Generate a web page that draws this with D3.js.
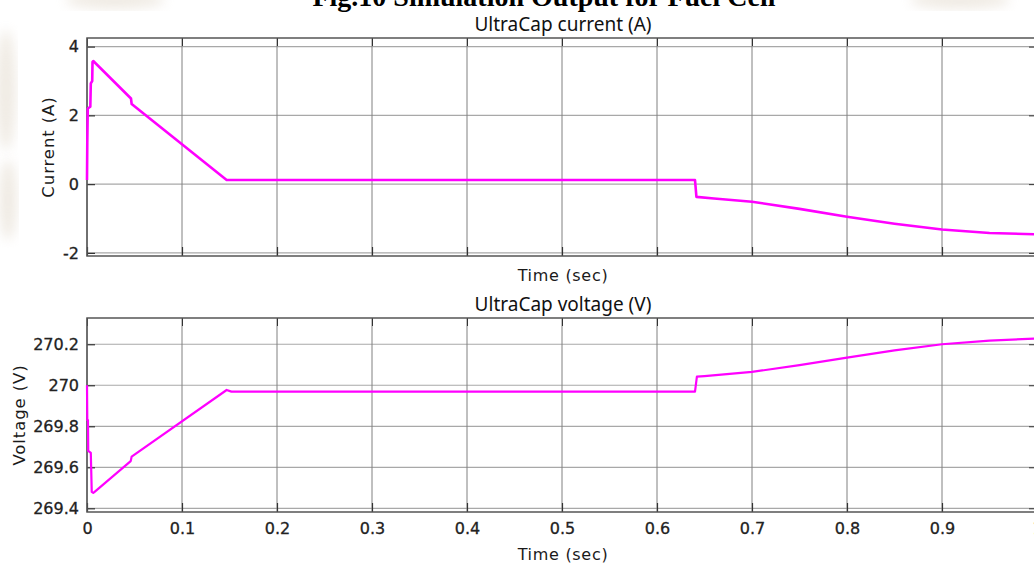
<!DOCTYPE html>
<html>
<head>
<meta charset="utf-8">
<script src="https://cdn.jsdelivr.net/npm/d3@7"></script>
<style>
  body { margin: 0; background: #fff; overflow: hidden; }
  text { font-family: "DejaVu Sans", sans-serif; }
</style>
</head>
<body>
<script>
const width = 1034;
const height = 563;

// UltraCap current (A)
const currentTime = [0, 0.0003, 0.0008, 0.0035, 0.004, 0.0055, 0.0058, 0.0066, 0.0463, 0.047, 0.147, 0.15, 0.64, 0.6415, 0.66, 0.7, 0.75, 0.8, 0.85, 0.9, 0.95, 1.0];
const currentValue = [0.12, 1.2, 2.2, 2.25, 2.93, 3.0, 3.55, 3.58, 2.49, 2.33, 0.12, 0.12, 0.12, -0.37, -0.42, -0.51, -0.72, -0.95, -1.15, -1.32, -1.42, -1.46];

// UltraCap voltage (V)
const voltageTime = [0, 0.0003, 0.001, 0.0013, 0.004, 0.005, 0.0066, 0.008, 0.046, 0.047, 0.147, 0.152, 0.64, 0.642, 0.65, 0.7, 0.75, 0.8, 0.85, 0.9, 0.95, 1.0];
const voltageValue = [270.0, 269.83, 269.83, 269.68, 269.67, 269.48, 269.475, 269.48, 269.63, 269.652, 269.977, 269.969, 269.969, 270.042, 270.045, 270.065, 270.098, 270.135, 270.17, 270.2, 270.218, 270.228];

const timeTicks = [0, 0.1, 0.2, 0.3, 0.4, 0.5, 0.6, 0.7, 0.8, 0.9, 1];
const currentTicks = [-2, 0, 2, 4];
const voltageTicks = [269.4, 269.6, 269.8, 270, 270.2];

const svg = d3.select("body").append("svg").attr("width", width).attr("height", height);

// faint background blobs from the scanned page
const blur = svg.append("defs").append("filter").attr("id", "blur");
blur.append("feGaussianBlur").attr("stdDeviation", 6);
const blobs = [[115, 0, 50, 9], [960, 0, 50, 9], [6, 90, 10, 60], [8, 200, 9, 40]];
svg.selectAll("ellipse.blob").data(blobs).join("ellipse")
  .attr("cx", d => d[0]).attr("cy", d => d[1]).attr("rx", d => d[2]).attr("ry", d => d[3])
  .attr("fill", "#d9cdbb").attr("opacity", 0.4).attr("filter", "url(#blur)");

// page caption, cut off at the top
svg.append("text")
  .attr("x", 544).attr("y", 6)
  .attr("text-anchor", "middle")
  .style("font-family", "'Liberation Serif', serif")
  .style("font-weight", "bold")
  .style("font-size", "28px")
  .text("Fig.10 Simulation Output for Fuel Cell");

const x = d3.scaleLinear().domain([0, 1]).range([87, 1037]);
const plain = d => d3.format("")(+d.toFixed(1)).replace("−", "-");

function drawPanel(opts) {
  const y = d3.scaleLinear().domain(opts.domain).range([opts.bottom, opts.top]);
  const g = svg.append("g");
  const x0 = x.range()[0], x1 = x.range()[1];

  // grid
  g.selectAll("line.hgrid").data(opts.ticks).join("line")
    .attr("x1", x0).attr("x2", x1)
    .attr("y1", d => y(d)).attr("y2", d => y(d))
    .attr("stroke", "#a8a8a8").attr("stroke-width", 1.2);
  g.selectAll("line.vgrid").data(timeTicks).join("line")
    .attr("x1", d => x(d)).attr("x2", d => x(d))
    .attr("y1", opts.top).attr("y2", opts.bottom)
    .attr("stroke", "#808080").attr("stroke-width", 1);

  // left axis, ticks pointing inward
  const left = g.append("g").attr("transform", `translate(${x0},0)`)
    .call(d3.axisLeft(y).tickValues(opts.ticks).tickSizeInner(-8).tickSizeOuter(0).tickPadding(8)
      .tickFormat(plain));
  left.select(".domain").remove();
  left.selectAll("line").attr("stroke", "#333").attr("stroke-width", 1.2);
  left.selectAll("text").attr("fill", "#222").attr("stroke", "#222").attr("stroke-width", 0.3)
    .style("font-size", "16px");

  const right = g.append("g").attr("transform", `translate(${x1},0)`)
    .call(d3.axisRight(y).tickValues(opts.ticks).tickSizeInner(-8).tickSizeOuter(0).tickFormat(""));
  right.select(".domain").remove();
  right.selectAll("line").attr("stroke", "#333");

  const bottomAxis = g.append("g").attr("transform", `translate(0,${opts.bottom})`)
    .call(d3.axisBottom(x).tickValues(timeTicks).tickSizeInner(-9).tickSizeOuter(0).tickPadding(11)
      .tickFormat(opts.showTime ? plain : ""));
  bottomAxis.select(".domain").remove();
  bottomAxis.selectAll("line").attr("stroke", "#333").attr("stroke-width", 1.2);
  bottomAxis.selectAll("text").attr("fill", "#222").attr("stroke", "#222").attr("stroke-width", 0.3)
    .style("font-size", "16px");

  const topAxis = g.append("g").attr("transform", `translate(0,${opts.top})`)
    .call(d3.axisTop(x).tickValues(timeTicks).tickSizeInner(-8).tickSizeOuter(0).tickFormat(""));
  topAxis.select(".domain").remove();
  topAxis.selectAll("line").attr("stroke", "#333");

  // frame
  g.append("rect")
    .attr("x", x0).attr("y", opts.top)
    .attr("width", x1 - x0).attr("height", opts.bottom - opts.top)
    .attr("fill", "none").attr("stroke", "#555").attr("stroke-width", 1.5);

  // signal
  const line = d3.line()
    .x((d, i) => x(opts.t[i]))
    .y(d => y(d));
  g.append("path")
    .datum(opts.v)
    .attr("d", line)
    .attr("fill", "none")
    .attr("stroke", "#ff00ff")
    .attr("stroke-width", opts.lineWidth)
    .attr("stroke-linejoin", "round");

  // titles
  g.append("text")
    .attr("x", 563).attr("y", opts.top - 7)
    .attr("text-anchor", "middle")
    .style("font-family", "'Noto Sans', sans-serif")
    .style("font-size", "19px")
    .attr("fill", "#111")
    .text(opts.title);
  g.append("text")
    .attr("x", 563).attr("y", opts.xLabelY)
    .attr("text-anchor", "middle")
    .style("font-size", "16px")
    .style("letter-spacing", "0.7px")
    .attr("fill", "#1a1a1a")
    .text("Time (sec)");
  g.append("text")
    .attr("transform", `translate(${opts.yLabelX},${(opts.top + opts.bottom) / 2}) rotate(-90)`)
    .attr("text-anchor", "middle")
    .attr("dy", "0.35em")
    .style("font-size", "16.5px")
    .style("letter-spacing", "0.9px")
    .attr("fill", "#1a1a1a")
    .text(opts.yLabel);
}

drawPanel({
  top: 38, bottom: 256, domain: [-2.09, 4.25], ticks: currentTicks,
  t: currentTime, v: currentValue,
  title: "UltraCap current (A)", yLabel: "Current (A)", yLabelX: 48,
  xLabelY: 281, showTime: false, lineWidth: 2.6
});

drawPanel({
  top: 318, bottom: 512, domain: [269.382, 270.328], ticks: voltageTicks,
  t: voltageTime, v: voltageValue,
  title: "UltraCap voltage (V)", yLabel: "Voltage (V)", yLabelX: 19,
  xLabelY: 560, showTime: true, lineWidth: 2.2
});
</script>
</body>
</html>
